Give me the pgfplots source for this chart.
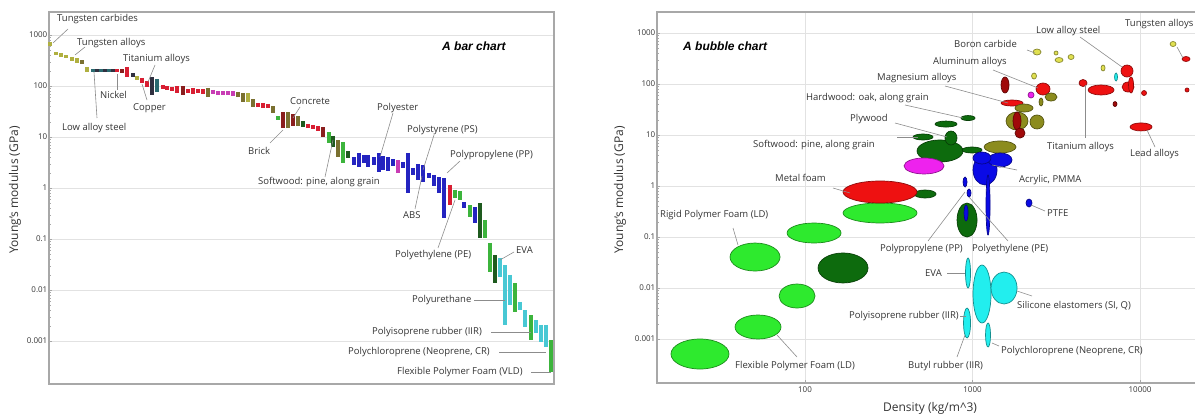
\documentclass[border=0pt]{standalone}
\usepackage{pgfplots}
\pgfplotsset{compat=1.18}
\usepackage{fontspec}
\setmainfont{Open Sans}
\newfontfamily\titlefont{Liberation Sans}
% bar colours
\definecolor{olv}{HTML}{B0B040}
\definecolor{tea}{HTML}{2A6A70}
\definecolor{rd}{HTML}{D81E32}
\definecolor{drd}{HTML}{8A1E1E}
\definecolor{mg}{HTML}{C83CB4}
\definecolor{dol}{HTML}{7A7030}
\definecolor{gr}{HTML}{3CB43C}
\definecolor{dg}{HTML}{1E5A1E}
\definecolor{bl}{HTML}{2424C0}
\definecolor{cy}{HTML}{48C8D4}
\definecolor{bk}{HTML}{303040}
% bubble colours
\definecolor{bLime}{HTML}{2EEA2E}
\definecolor{bDg}{HTML}{0D6B0D}
\definecolor{bRd}{HTML}{EE1111}
\definecolor{bMg}{HTML}{EE22EE}
\definecolor{bOl}{HTML}{8C8C1E}
\definecolor{bDr}{HTML}{A00A0A}
\definecolor{bBl}{HTML}{0A0AE6}
\definecolor{bYe}{HTML}{E0E050}
\definecolor{bCy}{HTML}{22EEEE}
% misc
\definecolor{txt}{HTML}{333333}
\definecolor{axc}{HTML}{A8A8A8}
\definecolor{grd}{HTML}{E2E2E2}
\definecolor{ldr}{HTML}{8C8C8C}

\pgfdeclareplotmark{ell}{%
  \pgfpathellipse{\pgfpointorigin}{\pgfpoint{\rx pt}{0pt}}{\pgfpoint{0pt}{\ry pt}}%
  \pgfusepathqfillstroke}

\pgfplotsset{
  fb/.style={line width=3.2pt, line cap=butt, draw=#1, forget plot},
  bub/.style={only marks, mark=ell, forget plot,
    visualization depends on={\thisrow{rx}\as\rx},
    visualization depends on={\thisrow{ry}\as\ry},
    mark options={fill=#1, draw=#1!60!black, line width=0.7pt}},
}
\newcommand\lf{\fontsize{9.5}{11}\selectfont}

\begin{document}
\begin{tikzpicture}[x=1pt,y=1pt,
  lab/.style={font=\lf, text=txt, inner sep=0pt, anchor=west},
  ld/.style={draw=ldr, line width=0.6pt}]
\path[use as bounding box] (0,0) rectangle (1195,416);

% ================= BAR CHART =================
\begin{axis}[at={(49pt,32pt)}, anchor=south west, scale only axis,
  width=505pt, height=372pt,
  xmin=49, xmax=554, ymode=log, ymin=1.435e-4, ymax=2824.5,
  xtick=\empty,
  ytick={0.001,0.01,0.1,1,10,100,1000},
  yticklabels={0.001,0.01,0.1,1,10,100,1000},
  yticklabel style={font=\fontsize{8}{9}\selectfont, text=txt, inner sep=1.5pt},
  ymajorgrids, major grid style={draw=grd, line width=0.8pt},
  axis line style={draw=axc, line width=1.2pt},
  tick style={draw=axc}, major tick length=3pt, minor tick length=1.5pt,
  tick pos=left, unbounded coords=jump, clip=false]
\addplot[fb=olv] coordinates {(50,729)(50,608)(50,nan) (56,464)(56,405)(56,nan)
 (61,444)(61,371)(61,nan) (66,405)(66,354)(66,nan) (72,371)(72,309)(72,nan)
 (77,354)(77,282)(77,nan) (87,236)(87,188)(87,nan) (137,157)(137,131)(137,nan)
 (248,72.9)(248,48.6)};
\addplot[fb=dol] coordinates {(82,323)(82,270)(82,nan) (208,91.4)(208,60.9)(208,nan)
 (238,76.3)(238,60.9)(238,nan) (243,72.9)(243,48.6)(243,nan) (253,55.6)(253,38.7)(253,nan)
 (273,40.5)(273,29.5)(273,nan) (288,30.9)(288,15.0)(288,nan) (298,25.8)(298,16.4)(298,nan)
 (338,8.73)(338,4.05)};
\addplot[fb=tea] coordinates {(93,215)(93,188)(93,nan) (101,215)(101,188)(101,nan)
 (109,215)(109,188)(109,nan) (157,137)(157,76.3)};
\addplot[fb=bk] coordinates {(97,215)(97,188)(97,nan) (105,215)(105,188)(105,nan)
 (113,215)(113,188)(113,nan) (133,180)(133,150)(133,nan) (152,150)(152,66.6)};
\addplot[fb=rd] coordinates {(117,215)(117,188)(117,nan) (127,236)(127,150)(127,nan)
 (142,144)(142,115)(142,nan) (147,125)(147,95.6)(147,nan) (163,105)(163,87.3)(163,nan)
 (167,100)(167,83.5)(167,nan) (172,95.6)(172,79.8)(172,nan) (177,100)(177,72.9)(177,nan)
 (188,87.3)(188,72.9)(188,nan) (193,91.4)(193,69.7)(193,nan) (198,87.3)(198,72.9)(198,nan)
 (203,87.3)(203,69.7)(203,nan) (258,46.4)(258,38.7)(258,nan) (263,46.4)(263,37.0)(263,nan)
 (268,44.4)(268,37.0)(268,nan) (308,18.0)(308,15.0)(308,nan) (313,17.2)(313,14.4)(313,nan)
 (318,16.4)(318,13.1)(318,nan) (450,1.15)(450,0.464)};
\addplot[fb=drd] coordinates {(122,215)(122,180)(122,nan) (183,100)(183,66.6)(183,nan)
 (283,30.9)(283,15.0)(283,nan) (293,28.2)(293,16.4)(293,nan) (323,15.7)(323,10.0)};
\addplot[fb=mg] coordinates {(213,83.5)(213,69.7)(213,nan) (218,79.8)(218,66.6)(218,nan)
 (223,79.8)(223,66.6)(223,nan) (228,79.8)(228,66.6)(228,nan) (233,79.8)(233,63.7)(233,nan)
 (398,3.54)(398,1.97)};
\addplot[fb=gr] coordinates {(278,25.8)(278,21.5)(278,nan) (329,12.5)(329,7.62)(329,nan)
 (343,7.98)(343,3.09)(343,nan) (455,0.914)(455,0.637)(455,nan) (460,0.873)(460,0.582)(460,nan)
 (470,0.464)(470,0.270)(470,nan) (485,0.236)(485,0.105)(485,nan) (490,0.0835)(490,0.0225)(490,nan)
 (515,0.0137)(515,0.00371)(515,nan) (531,0.00323)(531,0.00105)(531,nan)
 (551,0.00105)(551,0.000247)};
\addplot[fb=dg] coordinates {(303,20.6)(303,15.7)(303,nan) (333,10.5)(333,6.37)(333,nan)
 (348,5.31)(348,3.87)(348,nan) (480,0.508)(480,0.105)(480,nan) (495,0.0485)(495,0.0137)};
\addplot[fb=bl] coordinates {(354,4.05)(354,2.82)(354,nan) (359,4.86)(359,2.58)(359,nan)
 (364,4.44)(364,3.09)(364,nan) (368,4.44)(368,2.58)(368,nan) (374,4.05)(374,2.82)(374,nan)
 (379,4.86)(379,2.06)(379,nan) (383,4.24)(383,2.25)(383,nan) (388,4.05)(388,2.15)(388,nan)
 (393,3.70)(393,2.70)(393,nan) (403,3.24)(403,2.47)(403,nan) (408,4.86)(408,0.798)(408,nan)
 (413,2.47)(413,1.80)(413,nan) (418,2.96)(418,1.44)(418,nan) (423,2.82)(423,1.31)(423,nan)
 (429,1.97)(429,1.57)(429,nan) (434,1.80)(434,1.09)(434,nan) (439,1.64)(439,0.798)(439,nan)
 (444,1.57)(444,0.258)(444,nan) (464,0.531)(464,0.405)(464,nan) (475,0.424)(475,0.206)};
\addplot[fb=cy] coordinates {(500,0.0424)(500,0.0180)(500,nan) (505,0.0309)(505,0.00206)(505,nan)
 (510,0.0197)(510,0.00508)(510,nan) (520,0.00582)(520,0.00405)(520,nan)
 (525,0.00405)(525,0.00188)(525,nan) (536,0.00258)(536,0.00144)(536,nan)
 (541,0.00206)(541,0.000955)(541,nan) (546,0.00206)(546,0.000762)};
\end{axis}

% ================= BUBBLE CHART =================
\begin{axis}[at={(657pt,33pt)}, anchor=south west, scale only axis,
  width=558pt, height=371pt,
  xmode=log, ymode=log, xmin=13.07, xmax=28030, ymin=1.372e-4, ymax=2581,
  xtick={100,1000,10000}, xticklabels={100,1000,10000},
  ytick={0.001,0.01,0.1,1,10,100,1000},
  yticklabels={0.001,0.01,0.1,1,10,100,1000},
  ticklabel style={font=\fontsize{8}{9}\selectfont, text=txt},
  yticklabel style={inner sep=1.5pt},
  grid=major, major grid style={draw=grd, line width=0.8pt},
  axis line style={draw=axc, line width=1.2pt},
  tick style={draw=axc}, major tick length=3pt, minor tick length=1.5pt,
  tick pos=left, clip=true]
\addplot[bub=bLime] table {
x y rx ry
23.6 0.000508 29 15
52.4 0.00172 23 12
50.3 0.0405 25 14
89.6 0.00697 18 12
113.2 0.1198 27 10
280.4 0.296 37 10
};
\addplot[bub=bDg] table {
x y rx ry
168.6 0.0247 25 15
927.3 0.215 10 17
639.7 4.86 23 11
520.4 0.697 11 4
743.8 8.73 6 7
506.3 9.14 10 3
694.7 16.4 11 3
940.0 21.5 7 2.5
993.2 5.08 10 3
};
\addplot[bub=bRd] table {
x y rx ry
280.4 0.763 37 11
1720.9 42.4 11 3
5852.3 76.3 13 5
10139 14.4 11 4
4567.5 104.6 4 3.5
8363.6 179.8 6 6
8480 87.3 6 5
8837 95.6 2.5 8
10566 66.6 2.5 2.5
19080 76.3 2 2
18820 309.2 4 2.5
2636.1 79.8 7 6
};
\addplot[bub=bMg] table {
x y rx ry
513.3 2.47 20 8
2234.8 60.9 3 3
};
\addplot[bub=bOl] table {
x y rx ry
1459.7 5.82 16 6
2029.6 33.8 9 4
1843.3 18.8 11 9
2427.1 18.0 7 7
2942.9 55.6 6 4
2564.6 44.4 2 4
};
\addplot[bub=bDr] table {
x y rx ry
1563.5 95.6 4 8
1843.3 18.8 4 9
1920.8 10.9 5 5
7091.3 40.5 2 2.5
};
\addplot[bub=bBl] table {
x y rx ry
1187.4 2.06 12 15
1459.7 3.24 12 7
1139.4 3.54 9 6
1237.4 0.424 2 30
902.1 1.198 2 5
953.0 0.729 2 4
2174.1 0.464 3 4
914.6 0.296 2 8
};
\addplot[bub=bYe] table {
x y rx ry
2427.1 424.1 4 3
3151.9 405.3 2 2
3284.5 295.5 4 2.5
3873.0 338.3 3 2.5
2329.0 143.5 2.5 3
6014.8 205.9 2 3
15740 608.5 3 2.5
};
\addplot[bub=bCy] table {
x y rx ry
1139.4 0.00763 9 29
1542.3 0.0100 13 16
940.0 0.0197 2.5 15
927.3 0.00206 3.5 15
1237.4 0.001198 2.5 12
7190.0 137.2 1.5 4
};
\end{axis}

% ---------- axis titles ----------
\node[rotate=90, font=\fontsize{12}{14}\selectfont, text=txt] at (15,226) {Young's modulus (GPa)};
\node[rotate=90, font=\fontsize{12}{14}\selectfont, text=txt] at (620,226) {Young's modulus (GPa)};
\node[font=\fontsize{12}{14}\selectfont, text=txt] at (930,8) {Density (kg/m\^{}3)};
\node[anchor=west, inner sep=0pt, font=\titlefont\fontsize{12}{14}\selectfont\bfseries\itshape] at (442,370) {A bar chart};
\node[anchor=west, inner sep=0pt, font=\titlefont\fontsize{12}{14}\selectfont\bfseries\itshape] at (683,370) {A bubble chart};

% ---------- bar chart labels ----------
\draw[ld] (53,373)--(68,387);   \node[lab] at (57,397) {Tungsten carbides};
\draw[ld] (75,361)--(85,369);   \node[lab] at (77,373) {Tungsten alloys};
\draw[ld] (155,351)--(148,334); \node[lab] at (123,357) {Titanium alloys};
\draw[ld] (117,342)--(117,326); \node[lab] at (100,321) {Nickel};
\draw[ld] (142,332)--(147,316); \node[lab] at (133,308) {Copper};
\draw[ld] (94,344)--(97,298);   \node[lab] at (62,288) {Low alloy steel};
\draw[ld] (270,273)--(283,286); \node[lab] at (248,265) {Brick};
\draw[ld] (300,309)--(293,298); \node[lab] at (290,315) {Concrete};
\draw[ld] (393,303)--(380,259); \node[lab] at (377,308) {Polyester};
\draw[ld] (434,281)--(423,246); \node[lab] at (407,286) {Polystyrene (PS)};
\draw[ld] (460,255)--(447,243); \node[lab] at (450,261) {Polypropylene (PP)};
\draw[ld] (333,276)--(325,239); \node[lab] at (258,234) {Softwood: pine, along grain};
\draw[ld] (415,207)--(422,240); \node[lab] at (403,201) {ABS};
\draw[ld] (438,168)--(455,216); \node[lab] at (395,161) {Polyethylene (PE)};
\draw[ld] (514,164)--(500,156); \node[lab] at (516,166) {EVA};
\draw[ld] (474,116)--(505,116); \node[lab] at (412,116) {Polyurethane};
\draw[ld] (491,84)--(531,84);   \node[lab] at (372,84) {Polyisoprene rubber (IIR)};
\draw[ld] (499,64)--(546,64);   \node[lab] at (348,64) {Polychloroprene (Neoprene, CR)};
\draw[ld] (531,44)--(551,44);   \node[lab] at (397,44) {Flexible Polymer Foam (VLD)};

% ---------- bubble chart labels ----------
\draw[ld] (945,330)--(1008,313);  \node[lab] at (877,338) {Magnesium alloys};
\draw[ld] (905,311)--(963,298);   \node[lab] at (806,318) {Hardwood: oak, along grain};
\draw[ld] (895,293)--(947,279);   \node[lab] at (850,297) {Plywood};
\draw[ld] (897,279)--(918,279);   \node[lab] at (753,271) {Softwood: pine, along grain};
\draw[ld] (833,228)--(850,223);   \node[lab] at (775,238) {Metal foam};
\draw[ld] (733,188)--(738,171);   \node[lab] at (660,201) {Rigid Polymer Foam (LD)};
\draw[ld] (777,81)--(797,59);     \node[lab] at (735,50) {Flexible Polymer Foam (LD)};
\draw[ld] (928,175)--(965,224);   \node[lab, anchor=east] at (963,167) {Polypropylene (PP)};
\draw[ld] (1008,175)--(969,219);  \node[lab] at (972,167) {Polyethylene (PE)};
\draw[ld] (947,143)--(965,143);   \node[lab] at (925,143) {EVA};
\draw[ld] (1017,125)--(1032,120); \node[lab] at (1017,110) {Silicone elastomers (SI, Q)};
\draw[ld] (960,100)--(966,100);   \node[lab, anchor=east] at (959,100) {Polyisoprene rubber (IIR)};
\draw[ld] (957,59)--(965,81);     \node[lab] at (908,50) {Butyl rubber (IIR)};
\draw[ld] (992,73)--(999,70);     \node[lab] at (1001,65) {Polychloroprene (Neoprene, CR)};
\draw[ld] (1031,211)--(1045,205); \node[lab] at (1047,203) {PTFE};
\draw[ld] (992,251)--(1017,246);  \node[lab] at (1019,236) {Acrylic, PMMA};
\draw[ld] (1085,331)--(1085,278); \node[lab] at (1047,269) {Titanium alloys};
\draw[ld] (1147,286)--(1155,269); \node[lab] at (1130,262) {Lead alloys};
\draw[ld] (1027,366)--(1035,363); \node[lab] at (954,372) {Boron carbide};
\draw[ld] (993,346)--(1038,328);  \node[lab] at (933,354) {Aluminum alloys};
\draw[ld] (1080,379)--(1122,349); \node[lab] at (1036,385) {Low alloy steel};
\draw[ld] (1177,369)--(1183,358); \node[lab] at (1125,392) {Tungsten alloys};
\end{tikzpicture}
\end{document}
